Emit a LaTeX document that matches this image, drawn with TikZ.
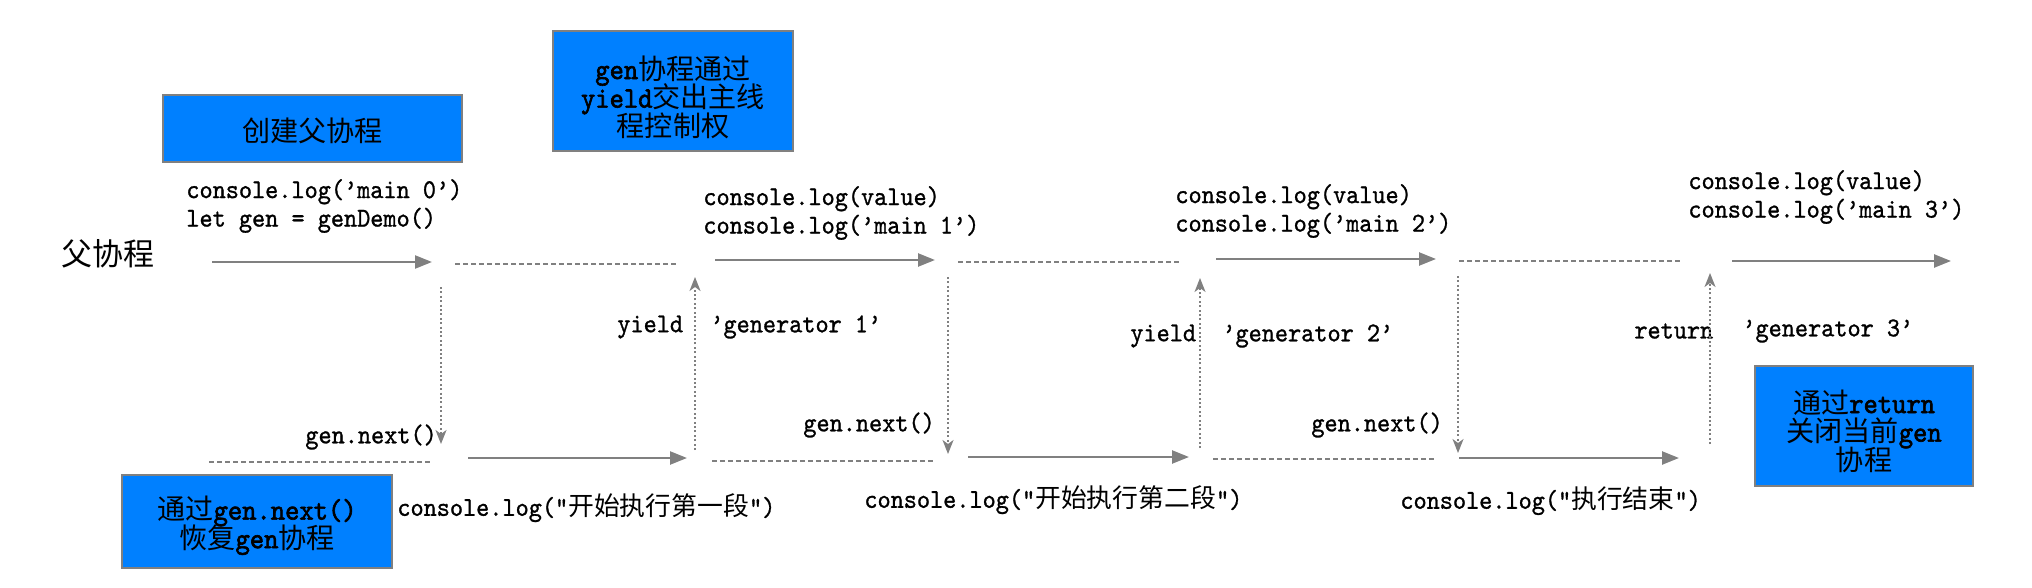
\documentclass[tikz,border=0pt]{standalone}
\usepackage{fontspec}
\setmonofont[FakeStretch=0.92,FakeBold=1]{lmmono10-regular.otf}
\newfontfamily\boxmono[FakeStretch=0.92,FakeBold=2]{lmmono10-regular.otf}
\newfontfamily\cjk[Scale=0.95]{Noto Sans CJK SC}
\newcommand\zh[1]{{\cjk #1}}
\usetikzlibrary{arrows.meta}
\definecolor{boxblue}{RGB}{0,128,255}
\definecolor{linegray}{RGB}{128,128,128}
\setlength{\lineskiplimit}{-10pt}

\begin{document}
\begin{tikzpicture}[x=0.5pt, y=-0.5pt,
                    codetext/.style = {anchor = west,
                                       inner sep = 0pt,
                                       align = left,
                                       font = \ttfamily\fontsize{13.6}{14.25}\selectfont},
                    notebox/.style = {shape = rectangle,
                                      fill = boxblue,
                                      draw = linegray,
                                      line width = 0.9pt},
                    notetext/.style = {align = center,
                                       inner sep = 0pt,
                                       font = \boxmono\fontsize{14.8}{14.3}\selectfont},
                    mainarrow/.style = {draw = linegray,
                                        line width = 1.2pt,
                                        -{Triangle[length=8.5pt,width=6.5pt]}},
                    waitline/.style = {draw = linegray,
                                       line width = 0.9pt,
                                       dash pattern = on 2.5pt off 1.5pt},
                    switcharrow/.style = {draw = linegray,
                                          line width = 0.8pt,
                                          dash pattern = on 1pt off 1.2pt,
                                          -{Stealth[length=7pt,width=5.5pt,inset=2pt]}}]
	\useasboundingbox (0,0) rectangle (2032,588);

	% boxes
	\node[notebox, minimum width=149.5pt, minimum height=33.5pt] (b1) at (312.5,128.5) {};
	\node[notebox, minimum width=120pt, minimum height=60pt] (b2) at (673,91) {};
	\node[notebox, minimum width=135pt, minimum height=46.5pt] (b3) at (257,521.5) {};
	\node[notebox, minimum width=109pt, minimum height=60pt] (b4) at (1864,426) {};
	\node[notetext] (b1-t) at ([yshift=-1pt]b1.center) {\zh{创建父协程}};
	\node[notetext] (b2-t) at ([yshift=-3pt]b2.center) {gen\zh{协程通过}\\yield\zh{交出主线}\\\zh{程控制权}};
	\node[notetext] (b3-t) at ([yshift=-2pt]b3.center) {\zh{通过}gen.next()\\\zh{恢复}gen\zh{协程}};
	\node[notetext] (b4-t) at ([yshift=-2.5pt]b4.center) {\zh{通过}return\\\zh{关闭当前}gen\\\zh{协程}};

	% labels
	\node[font=\cjk\fontsize{16.3}{17}\selectfont, inner sep=0pt] (parent) at (108,254) {父协程};
	\node[codetext] (c0) at (186,206) {console.log(’main 0’)\\let gen = genDemo()};
	\node[codetext] (c1) at (703,213) {console.log(value)\\console.log(’main 1’)};
	\node[codetext] (c2) at (1175,211) {console.log(value)\\console.log(’main 2’)};
	\node[codetext] (c3) at (1688,197) {console.log(value)\\console.log(’main 3’)};
	\node[codetext] (k1) at (617,327) {yield};
	\node[codetext] (r1) at (710,327) {’generator 1’};
	\node[codetext] (k2) at (1130,336) {yield};
	\node[codetext] (r2) at (1222,336) {’generator 2’};
	\node[codetext] (k3) at (1634,331) {return};
	\node[codetext] (r3) at (1742,331) {’generator 3’};
	\node[codetext] (x1) at (305,437) {gen.next()};
	\node[codetext] (x2) at (803,425) {gen.next()};
	\node[codetext] (x3) at (1311,425) {gen.next()};
	\node[codetext] (s1) at (397,508) {console.log(”\zh{开始执行第一段}”)};
	\node[codetext] (s2) at (864,500) {console.log(”\zh{开始执行第二段}”)};
	\node[codetext] (s3) at (1400,501) {console.log(”\zh{执行结束}”)};

	% running parts
	\foreach \n/\xa/\xb/\y in {m1/212/432/262, m2/715/935/260, m3/1216/1436/259, m4/1732/1951/261,
	                           g1/468/687/458, g2/968/1189/457, g3/1459/1679/458}
	{
		\coordinate (\n-s) at (\xa,\y);
		\coordinate (\n-e) at (\xb,\y);
		\draw[mainarrow] (\n-s) -- (\n-e);
	}
	% waiting parts
	\foreach \n/\xa/\xb/\y in {w1/455/678/264, w2/958/1181/262, w3/1459/1680/261,
	                           v1/209/431/462, v2/712/933/461, v3/1213/1434/459}
	{
		\coordinate (\n-s) at (\xa,\y);
		\coordinate (\n-e) at (\xb,\y);
		\draw[waitline] (\n-s) -- (\n-e);
	}
	% next / yield / return
	\foreach \n/\x/\ya/\yb in {n1/441/287/444, n2/948/277/454, n3/1458/276/453,
	                           y1/695/450/277, y2/1200/448/278, y3/1710/444/273}
	{
		\coordinate (\n-s) at (\x,\ya);
		\coordinate (\n-e) at (\x,\yb);
		\draw[switcharrow] (\n-s) -- (\n-e);
	}
\end{tikzpicture}
\end{document}
